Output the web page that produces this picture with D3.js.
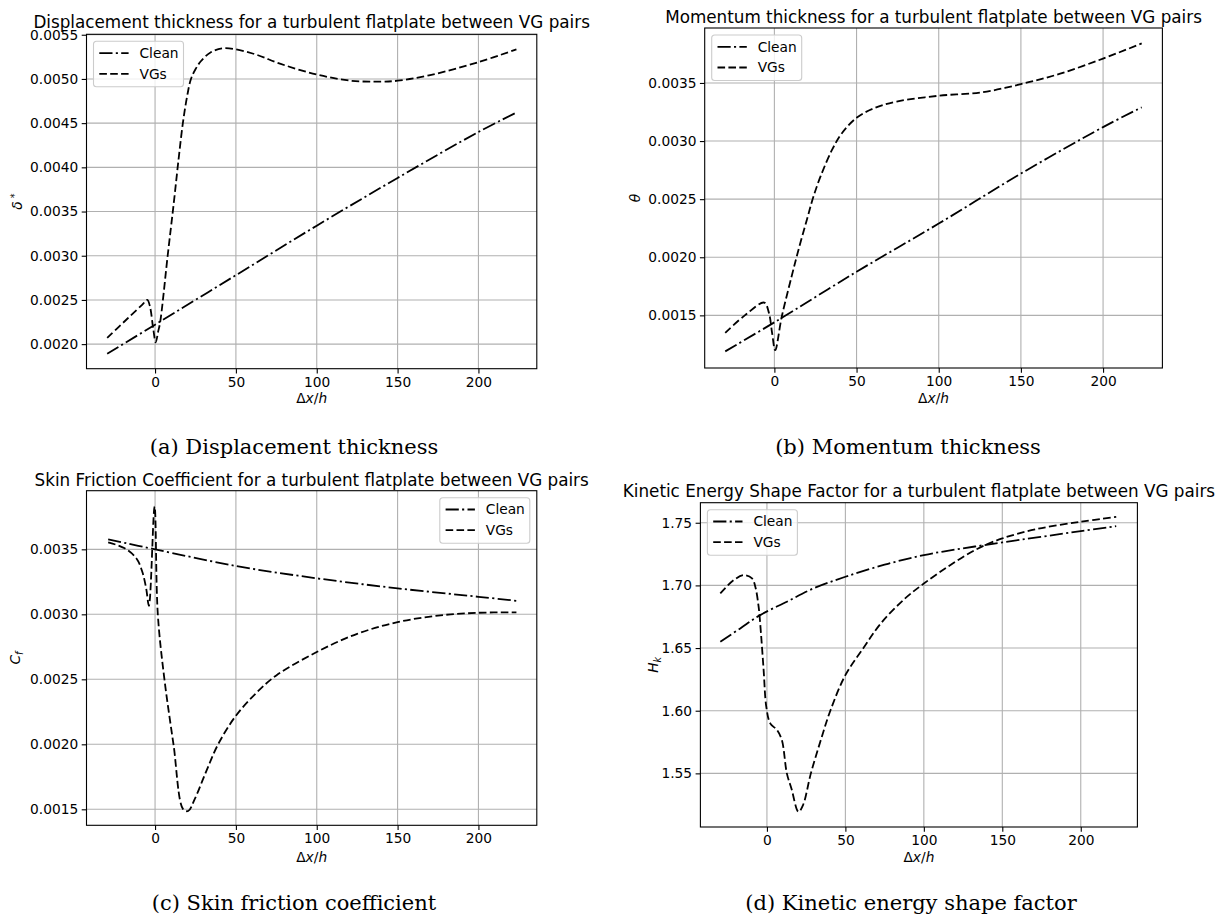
<!DOCTYPE html>
<html>
<head>
<meta charset="utf-8">
<script src="https://cdn.jsdelivr.net/npm/d3@7"></script>
<style>
  body { margin: 0; background: #fff; }
  text { font-family: "DejaVu Sans", sans-serif; fill: #000; }
  .caption { font-family: "DejaVu Serif", serif; font-size: 21px; }
</style>
</head>
<body>
<svg id="fig" width="1218" height="917"></svg>
<script>
// ----- DATA -----
const xTicks = [0, 50, 100, 150, 200];
const xDomain = [-42.4, 236.1];

// (a) displacement thickness
const dispCleanX = [-29.6, 0, 50, 100, 150, 200, 223.5];
const dispCleanY = [0.00189, 0.00222, 0.00278, 0.00334, 0.00388, 0.00440, 0.00462];
const dispVgX = [-29.6, -17, -8, -4.8, -3.2, -1.1, 0.4, 2, 3.1, 7.8, 11.6, 14.6, 17.2, 19.8, 22.2, 25, 28.3, 34.3, 42.8, 60.8, 77.7, 100, 121.1, 140.5, 150, 169.4, 200, 223.5];
const dispVgY = [0.00207, 0.00229, 0.002445, 0.00250, 0.00243, 0.00217, 0.00202, 0.00215, 0.00224, 0.00300, 0.00360, 0.00410, 0.00450, 0.00480, 0.00500, 0.00511, 0.00520, 0.00530, 0.005348, 0.005285, 0.00517, 0.00505, 0.00498, 0.00497, 0.00498, 0.00504, 0.00519, 0.005335];
const dispTicks = [0.0020, 0.0025, 0.0030, 0.0035, 0.0040, 0.0045, 0.0050, 0.0055];

// (b) momentum thickness
const momCleanX = [-29.9, 0, 50, 100, 150, 200, 223.5];
const momCleanY = [0.00119, 0.00144, 0.001875, 0.00229, 0.00272, 0.00312, 0.00329];
const momVgX = [-29.9, -18, -6.2, -3.3, -1.4, 0.5, 4.5, 10.4, 14.4, 19.9, 23.5, 28.2, 35.3, 41.2, 50, 60.2, 74.4, 100, 126.5, 150, 173.9, 200, 223.5];
const momVgY = [0.00135, 0.00150, 0.00161, 0.00152, 0.00135, 0.00120, 0.00149, 0.00183, 0.00205, 0.00233, 0.00251, 0.00270, 0.00293, 0.00307, 0.00320, 0.00328, 0.00334, 0.00339, 0.00342, 0.00349, 0.00358, 0.00371, 0.00384];
const momTicks = [0.0015, 0.0020, 0.0025, 0.0030, 0.0035];

// (c) skin friction coefficient
const cfCleanX = [-29, 0, 50, 100, 150, 200, 223.5];
const cfCleanY = [0.003577, 0.00350, 0.003372, 0.003277, 0.00320, 0.003135, 0.003104];
const cfVgX = [-29, -18.8, -11.5, -7.9, -5.5, -3.8, -0.3, 1.7, 5.8, 11.4, 17.4, 20.5, 24.6, 31.9, 39, 50, 63, 75, 100, 125, 150, 175, 200, 223.5];
const cfVgY = [0.003554, 0.003508, 0.00343, 0.003328, 0.00320, 0.003066, 0.00383, 0.00300, 0.00250, 0.00200, 0.00150, 0.001487, 0.00158, 0.00180, 0.00200, 0.00222, 0.00240, 0.00253, 0.00271, 0.00285, 0.00294, 0.00299, 0.003012, 0.003015];
const cfTicks = [0.0015, 0.0020, 0.0025, 0.0030, 0.0035];

// (d) kinetic energy shape factor
const hkCleanX = [-29.7, -17, -4.3, 12.7, 29.6, 50, 75, 100, 124.7, 150, 200, 222.6];
const hkCleanY = [1.655, 1.6657, 1.6763, 1.687, 1.6976, 1.7069, 1.7165, 1.7242, 1.7295, 1.7343, 1.7433, 1.7473];
const hkVgX = [-29.7, -21.2, -14.9, -9.5, -7.4, -5.3, -3.8, -2.1, -0.4, 2.1, 6.4, 9.5, 12.7, 15.6, 20.1, 23, 28, 34, 40.4, 50, 61.5, 72.6, 87.5, 100, 117.2, 134.6, 150, 171.7, 200, 222.6];
const hkVgY = [1.6936, 1.7042, 1.7082, 1.7056, 1.6989, 1.683, 1.6617, 1.6324, 1.6031, 1.5899, 1.5846, 1.5766, 1.55, 1.538, 1.5194, 1.5247, 1.55, 1.5752, 1.60, 1.6284, 1.65, 1.6697, 1.689, 1.7015, 1.7165, 1.7295, 1.7375, 1.7449, 1.7508, 1.7547];
const hkTicks = [1.55, 1.60, 1.65, 1.70, 1.75];

const seriesNames = ["Clean", "VGs"];

// ----- STYLE -----
const FS = 13.75;          // tick / label / legend font size
const dashes = { Clean: "13.2,3.3,2.1,3.3", VGs: "7.6,3.3" };
const zip = (xs, ys) => xs.map((v, i) => [v, ys[i]]);

const svg = d3.select("#fig");
svg.append("rect").attr("width", 1218).attr("height", 917).attr("fill", "#fff");

const panels = [
  { left: 86.5, right: 536.8, top: 34.3, bottom: 368.7, titleY: 28.3, xlabY: 403,
    yDomain: [0.001722, 0.005505], yTicks: dispTicks, fmt: d3.format(".4f"),
    title: "Displacement thickness for a turbulent flatplate between VG pairs",
    ylab: "delta", ylabX: 17.5, legend: "left",
    clean: zip(dispCleanX, dispCleanY), vg: zip(dispVgX, dispVgY) },
  { left: 704.7, right: 1162.4, top: 28, bottom: 368, titleY: 22.7, xlabY: 403,
    yDomain: [0.001047, 0.003973], yTicks: momTicks, fmt: d3.format(".4f"),
    title: "Momentum thickness for a turbulent flatplate between VG pairs",
    ylab: "theta", ylabX: 635.3, legend: "left",
    clean: zip(momCleanX, momCleanY), vg: zip(momVgX, momVgY) },
  { left: 86.5, right: 536.8, top: 490.7, bottom: 825.3, titleY: 486, xlabY: 862,
    yDomain: [0.001377, 0.003951], yTicks: cfTicks, fmt: d3.format(".4f"),
    title: "Skin Friction Coefficient for a turbulent flatplate between VG pairs",
    ylab: "cf", ylabX: 15.6, legend: "right",
    clean: zip(cfCleanX, cfCleanY), vg: zip(cfVgX, cfVgY) },
  { left: 700.4, right: 1137.4, top: 502.7, bottom: 827, titleY: 496.7, xlabY: 862,
    yDomain: [1.5072, 1.766], yTicks: hkTicks, fmt: d3.format(".2f"),
    title: "Kinetic Energy Shape Factor for a turbulent flatplate between VG pairs",
    ylab: "hk", ylabX: 652.8, legend: "left",
    clean: zip(hkCleanX, hkCleanY), vg: zip(hkVgX, hkVgY) }
];

function drawPanel(p) {
  const g = svg.append("g");
  const x = d3.scaleLinear().domain(xDomain).range([p.left, p.right]);
  const y = d3.scaleLinear().domain(p.yDomain).range([p.bottom, p.top]);

  // grid
  g.append("g").selectAll("line").data(xTicks).join("line")
    .attr("x1", d => x(d)).attr("x2", d => x(d))
    .attr("y1", p.top).attr("y2", p.bottom)
    .attr("stroke", "#b0b0b0").attr("stroke-width", 1.1);
  g.append("g").selectAll("line").data(p.yTicks).join("line")
    .attr("y1", d => y(d)).attr("y2", d => y(d))
    .attr("x1", p.left).attr("x2", p.right)
    .attr("stroke", "#b0b0b0").attr("stroke-width", 1.1);

  // curves
  const line = d3.line().x(d => x(d[0])).y(d => y(d[1])).curve(d3.curveCatmullRom.alpha(0.5));
  [["Clean", p.clean], ["VGs", p.vg]].forEach(([name, pts]) => {
    g.append("path").datum(pts).attr("d", line)
      .attr("fill", "none").attr("stroke", "#000").attr("stroke-width", 1.8)
      .attr("stroke-dasharray", dashes[name]);
  });

  // axes
  const xa = g.append("g").attr("transform", `translate(0,${p.bottom})`)
    .call(d3.axisBottom(x).tickValues(xTicks).tickFormat(d3.format("d")).tickSize(4.8).tickPadding(3.5));
  const ya = g.append("g").attr("transform", `translate(${p.left},0)`)
    .call(d3.axisLeft(y).tickValues(p.yTicks).tickFormat(p.fmt).tickSize(4.8).tickPadding(3.5));
  [xa, ya].forEach(a => {
    a.select(".domain").remove();
    a.selectAll("line").attr("stroke", "#000").attr("stroke-width", 1.1);
    a.selectAll("text").attr("font-size", FS).attr("font-family", "DejaVu Sans").attr("fill", "#000");
  });

  // spines
  g.append("rect").attr("x", p.left).attr("y", p.top)
    .attr("width", p.right - p.left).attr("height", p.bottom - p.top)
    .attr("fill", "none").attr("stroke", "#000").attr("stroke-width", 1.1);

  // title
  g.append("text").attr("x", (p.left + p.right) / 2).attr("y", p.titleY)
    .attr("text-anchor", "middle").attr("font-size", 16.8).text(p.title);

  // x label  Δx/h
  const xl = g.append("text").attr("x", (p.left + p.right) / 2).attr("y", p.xlabY)
    .attr("text-anchor", "middle").attr("font-size", FS);
  xl.append("tspan").text("Δ");
  xl.append("tspan").attr("font-style", "italic").text("x");
  xl.append("tspan").text("/");
  xl.append("tspan").attr("font-style", "italic").text("h");

  // y label
  const yl = g.append("text")
    .attr("transform", `translate(${p.ylabX},${(p.top + p.bottom) / 2}) rotate(-90)`)
    .attr("text-anchor", "middle").attr("dy", "0.35em").attr("font-size", FS);
  if (p.ylab === "delta") {
    yl.append("tspan").attr("font-style", "italic").text("δ");
    yl.append("tspan").attr("dy", "-0.45em").attr("font-size", FS * 0.7).text(" *");
  } else if (p.ylab === "theta") {
    yl.append("tspan").attr("font-style", "italic").text("θ");
  } else if (p.ylab === "cf") {
    yl.append("tspan").attr("font-style", "italic").text("C");
    yl.append("tspan").attr("font-style", "italic").attr("dy", "0.3em").attr("font-size", FS * 0.7).text("f");
  } else {
    yl.append("tspan").attr("font-style", "italic").text("H");
    yl.append("tspan").attr("font-style", "italic").attr("dy", "0.3em").attr("font-size", FS * 0.7).text("k");
  }

  // legend
  const lw = 90, lh = 45.5;
  const lx = p.legend === "left" ? p.left + 7 : p.right - 7 - lw;
  const ly = p.top + 7;
  const lg = g.append("g").attr("transform", `translate(${lx},${ly})`);
  lg.append("rect").attr("width", lw).attr("height", lh).attr("rx", 3)
    .attr("fill", "#fff").attr("fill-opacity", 0.8)
    .attr("stroke", "#cccccc").attr("stroke-width", 1.1);
  seriesNames.forEach((name, i) => {
    const cy = 11.8 + i * 20.7;
    lg.append("line").attr("x1", 5.8).attr("x2", 35.1).attr("y1", cy).attr("y2", cy)
      .attr("stroke", "#000").attr("stroke-width", 1.8).attr("stroke-dasharray", dashes[name]);
    lg.append("text").attr("x", 46).attr("y", cy).attr("dy", "0.35em")
      .attr("font-size", FS).text(name);
  });
}

panels.forEach(drawPanel);

// ----- CAPTIONS -----
const captions = [
  { x: 294, y: 453.5, t: "(a) Displacement thickness" },
  { x: 908, y: 453.5, t: "(b) Momentum thickness" },
  { x: 294, y: 910, t: "(c) Skin friction coefficient" },
  { x: 911, y: 910, t: "(d) Kinetic energy shape factor" }
];
svg.selectAll("text.caption").data(captions).join("text")
  .attr("class", "caption").attr("x", d => d.x).attr("y", d => d.y)
  .attr("text-anchor", "middle").text(d => d.t);
</script>
</body>
</html>
